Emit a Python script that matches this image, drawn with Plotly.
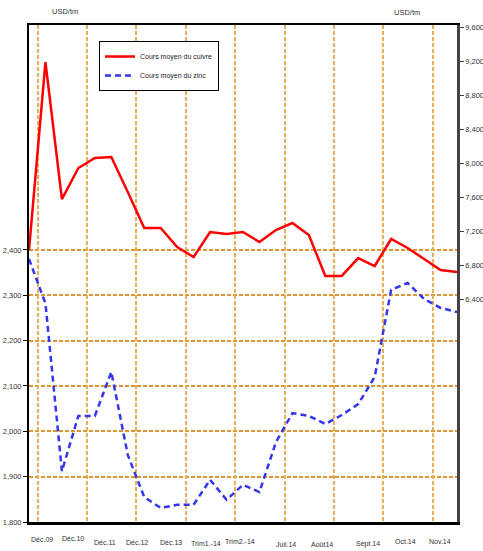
import plotly.graph_objects as go

# ---- data ----
point_index = list(range(27))
copper = [6976, 9188, 7576, 7941, 8059, 8071, 7659, 7235, 7235, 7012, 6894, 7188, 7165, 7188,
          7071, 7212, 7294, 7153, 6671, 6671, 6882, 6788, 7106, 7000, 6871, 6741, 6718]
zinc = [2380, 2282, 1912, 2034, 2034, 2131, 1948, 1855, 1831, 1838, 1838, 1893, 1849, 1882,
        1866, 1976, 2040, 2034, 2016, 2036, 2060, 2120, 2312, 2327, 2292, 2272, 2263]
period_labels = ["Déc.09", "Déc.10", "Déc.11", "Déc.12", "Déc.13", "Trim1.-14", "Trim2.-14",
                 "Juil.14", "Août14", "Sept.14", "Oct.14", "Nov.14"]
left_ticks = [1800, 1900, 2000, 2100, 2200, 2300, 2400]
right_ticks = [6400, 6800, 7200, 7600, 8000, 8400, 8800, 9200, 9600]
unit = "USD/tm"

# ---- layout helpers (positions / styles) ----
label_pos = [0.81, 2.69, 4.62, 6.54, 8.61, 10.73, 12.82, 15.61, 17.78, 20.58, 22.89, 24.99]
label_drop = [17, 16, 20, 20, 20, 21, 19, 22, 22, 22, 19, 19]
vgrid_pos = [0.53 + 3 * j for j in range(9)]

FONT = "Liberation Sans, Arial, sans-serif"
HGRID = "#DC9532"
VGRID = "#E8AE55"
TXT = "#333333"

fig = go.Figure()
fig.add_trace(go.Scatter(x=point_index, y=copper, name="Cours moyen du cuivre", mode="lines",
                         line=dict(color="#FF0000", width=2.5), yaxis="y2"))
fig.add_trace(go.Scatter(x=point_index, y=zinc, name="Cours moyen du zinc", mode="lines",
                         line=dict(color="#3535EE", width=2.5, dash="6px,4px"), yaxis="y"))
# invisible trace to activate the vertical-grid axis
fig.add_trace(go.Scatter(x=[None], y=[None], xaxis="x2", showlegend=False, hoverinfo="skip"))

annotations = []
for lab, xp, dr in zip(period_labels, label_pos, label_drop):
    annotations.append(dict(text=lab, x=xp, xref="x", y=0, yref="paper", yanchor="middle",
                            yshift=-dr, showarrow=False,
                            font=dict(family=FONT, size=7, color=TXT)))
annotations.append(dict(text=unit, x=(50 - 29) / 428, xref="paper", y=1, yref="paper",
                        yanchor="middle", yshift=14, showarrow=False,
                        font=dict(family=FONT, size=7.5, color=TXT)))
annotations.append(dict(text=unit, x=(422 - 29) / 428, xref="paper", y=1, yref="paper",
                        yanchor="middle", yshift=13, showarrow=False,
                        font=dict(family=FONT, size=7.5, color=TXT)))

fig.update_layout(
    width=483, height=551,
    margin=dict(l=29, r=26, t=25, b=29, autoexpand=False),
    paper_bgcolor="white", plot_bgcolor="white",
    font=dict(family=FONT, size=7.5, color=TXT),
    showlegend=True,
    legend=dict(x=(99 - 29) / 428, y=(522 - 41) / 497, xanchor="left", yanchor="top",
                bgcolor="white", bordercolor="black", borderwidth=1,
                font=dict(family=FONT, size=7, color="#222222"),
                tracegroupgap=0, itemwidth=30),
    xaxis=dict(range=[0, 26], showgrid=False, zeroline=False, showticklabels=False,
               showline=True, linecolor="black", linewidth=3, ticks="", automargin=False),
    xaxis2=dict(range=[0, 26], overlaying="x", side="top", tickvals=vgrid_pos,
                showticklabels=False, ticks="", showgrid=True, gridcolor=VGRID, gridwidth=1.5,
                griddash="4px,2px", zeroline=False, showline=True, linecolor="black",
                linewidth=2, automargin=False),
    yaxis=dict(range=[1800, 2896], tickvals=left_ticks, tickformat=",d", showgrid=True,
               gridcolor=HGRID, gridwidth=1.5, griddash="4px,2px", zeroline=False,
               showline=True, linecolor="black", linewidth=2, ticks="outside", ticklen=4,
               tickcolor="black", automargin=False,
               tickfont=dict(family=FONT, size=7.5, color=TXT)),
    yaxis2=dict(range=[3776, 9624], overlaying="y", side="right", tickvals=right_ticks,
                tickformat=",d", showgrid=False, zeroline=False, showline=True,
                linecolor="#444444", linewidth=2.5, ticks="outside", ticklen=4,
                tickcolor="#444444", automargin=False,
                tickfont=dict(family=FONT, size=7.5, color=TXT)),
    annotations=annotations,
)

fig.write_html("out.html", config={"displayModeBar": False},
               post_script="document.body.style.margin='0px';")
